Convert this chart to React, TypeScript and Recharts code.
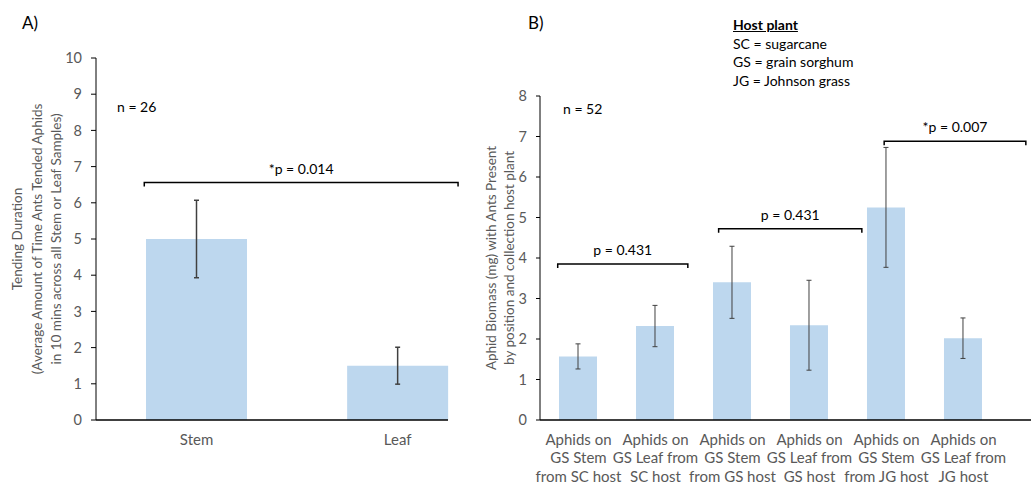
import React from "react";
import { BarChart, Bar, XAxis, YAxis, ErrorBar, ReferenceLine } from "recharts";

// Panel A: tending duration by sample position
const tendingPositions = ["Stem", "Leaf"];
const tendingMeans = [5.0, 1.5];
const tendingErrors = [1.07, 0.51];
const tendingTicks = [0, 1, 2, 3, 4, 5, 6, 7, 8, 9, 10];
const tendingBrackets = [{ from: 0.24, to: 1.8, y: 6.56, label: "*p = 0.014" }];

// Panel B: aphid biomass by position and host plant
const biomassGroups = [
  "Aphids on\nGS Stem\nfrom SC host",
  "Aphids on\nGS Leaf from\nSC host",
  "Aphids on\nGS Stem\nfrom GS host",
  "Aphids on\nGS Leaf from\nGS host",
  "Aphids on\nGS Stem\nfrom JG host",
  "Aphids on\nGS Leaf from\nJG host",
];
const biomassMeans = [1.57, 2.32, 3.4, 2.34, 5.25, 2.02];
const biomassErrors = [0.31, 0.51, 0.89, 1.11, 1.48, 0.5];
const biomassTicks = [0, 1, 2, 3, 4, 5, 6, 7, 8];
const biomassBrackets = [
  { from: 0.23, to: 1.92, y: 3.85, label: "p = 0.431" },
  { from: 2.32, to: 4.18, y: 4.72, label: "p = 0.431" },
  { from: 4.47, to: 6.31, y: 6.88, label: "*p = 0.007" },
];

const hostPlantKey = ["SC = sugarcane", "GS = grain sorghum", "JG = Johnson grass"];

const FONT = "Lato, 'Open Sans', sans-serif";
const GREY = "#595959";
const BAR = "#BDD7EE";

const tendingData = tendingPositions.map((name, i) => ({
  x: i + 0.5,
  name,
  mean: tendingMeans[i],
  err: tendingErrors[i],
}));

const biomassData = biomassGroups.map((name, i) => ({
  x: i + 0.5,
  name,
  mean: biomassMeans[i],
  err: biomassErrors[i],
}));

function renderBracket(label: string) {
  return (props: any) => {
    const { x1, x2, y1 } = props;
    return (
      <g>
        <path
          d={`M${x1},${y1 + 4} V${y1} H${x2} V${y1 + 4}`}
          fill="none"
          stroke="#000"
          strokeWidth={1.5}
        />
        <text
          x={(x1 + x2) / 2}
          y={y1 - 9}
          textAnchor="middle"
          fontSize={14}
          fontFamily={FONT}
          fill="#000"
        >
          {label}
        </text>
      </g>
    );
  };
}

function axisTitle(lines: string[], offsets: number[]) {
  return (props: any) => {
    const vb = props.viewBox || {};
    const plotLeft = vb.x + vb.width;
    const cy = vb.y + vb.height / 2;
    return (
      <g>
        {lines.map((line, i) => (
          <text
            key={i}
            x={plotLeft - offsets[i]}
            y={cy}
            transform={`rotate(-90 ${plotLeft - offsets[i]} ${cy})`}
            textAnchor="middle"
            dominantBaseline="central"
            fontSize={13.5}
            fontFamily={FONT}
            fill={GREY}
          >
            {line}
          </text>
        ))}
      </g>
    );
  };
}

function GroupTick(props: any) {
  const { x, y, payload } = props;
  const lines = biomassGroups[Math.floor(payload.value)].split("\n");
  return (
    <text x={x} y={y} textAnchor="middle" fontSize={15} fontFamily={FONT} fill={GREY}>
      {lines.map((l, i) => (
        <tspan key={i} x={x} dy={i === 0 ? 10.5 : 18.5}>
          {l}
        </tspan>
      ))}
    </text>
  );
}

const absText = (left: number, top: number, extra: React.CSSProperties = {}) => ({
  position: "absolute" as const,
  left,
  top,
  fontFamily: FONT,
  fontSize: 14,
  color: "#000",
  whiteSpace: "nowrap" as const,
  lineHeight: "19px",
  ...extra,
});

export default function App() {
  return (
    <div
      style={{
        position: "absolute",
        left: 0,
        top: 0,
        width: 1031,
        height: 484,
        background: "#fff",
        overflow: "hidden",
      }}
    >
      {/* Panel A */}
      <div style={{ position: "absolute", left: 0, top: 0 }}>
        <BarChart
          width={470}
          height={484}
          data={tendingData}
          margin={{ top: 58, right: 22, left: 36, bottom: 24 }}
        >
          <XAxis
            type="number"
            dataKey="x"
            domain={[0, 1.75]}
            ticks={[0.5, 1.5]}
            tickFormatter={(v: number) => tendingPositions[Math.floor(v)]}
            tickLine={false}
            tickSize={0}
            tickMargin={14}
            height={40}
            axisLine={{ stroke: "#000", strokeWidth: 1.5 }}
            tick={{ fill: GREY, fontSize: 15, fontFamily: FONT }}
          />
          <YAxis
            type="number"
            domain={[0, 10]}
            ticks={tendingTicks}
            width={60}
            tickSize={5}
            tickMargin={9}
            axisLine={{ stroke: "#000", strokeWidth: 1 }}
            tickLine={{ stroke: "#000" }}
            tick={{ fill: GREY, fontSize: 14.5, fontFamily: FONT }}
            label={{
              content: axisTitle(
                [
                  "Tending Duration",
                  "(Average Amount of Time Ants Tended Aphids",
                  "in 10 mins across all Stem or Leaf Samples)",
                ],
                [79, 59.5, 40]
              ),
            }}
          />
          <Bar dataKey="mean" fill={BAR} barSize={101} isAnimationActive={false}>
            <ErrorBar dataKey="err" width={2.5} stroke="#404040" strokeWidth={1.5} />
          </Bar>
          {tendingBrackets.map((b, i) => (
            <ReferenceLine
              key={i}
              segment={[
                { x: b.from, y: b.y },
                { x: b.to, y: b.y },
              ]}
              ifOverflow="visible"
              shape={renderBracket(b.label)}
            />
          ))}
        </BarChart>
      </div>

      {/* Panel B */}
      <div style={{ position: "absolute", left: 440, top: 0 }}>
        <BarChart
          width={591}
          height={484}
          data={biomassData}
          margin={{ top: 96, right: 0, left: 60, bottom: 24 }}
        >
          <XAxis
            type="number"
            dataKey="x"
            domain={[0, 6.377]}
            ticks={[0.5, 1.5, 2.5, 3.5, 4.5, 5.5]}
            tickLine={false}
            tickSize={0}
            tickMargin={14}
            height={40}
            axisLine={{ stroke: "#000", strokeWidth: 1.5 }}
            tick={<GroupTick />}
          />
          <YAxis
            type="number"
            domain={[0, 8]}
            ticks={biomassTicks}
            width={40}
            tickSize={4}
            tickMargin={9}
            axisLine={{ stroke: "#000", strokeWidth: 1 }}
            tickLine={{ stroke: "#000" }}
            tick={{ fill: GREY, fontSize: 14.5, fontFamily: FONT }}
            label={{
              content: axisTitle(
                ["Aphid Biomass (mg) with Ants Present", "by position and collection host plant"],
                [49, 31]
              ),
            }}
          />
          <Bar dataKey="mean" fill={BAR} barSize={38} isAnimationActive={false}>
            <ErrorBar dataKey="err" width={2.5} stroke="#404040" strokeWidth={1} />
          </Bar>
          {biomassBrackets.map((b, i) => (
            <ReferenceLine
              key={i}
              segment={[
                { x: b.from, y: b.y },
                { x: b.to, y: b.y },
              ]}
              ifOverflow="visible"
              shape={renderBracket(b.label)}
            />
          ))}
        </BarChart>
      </div>

      {/* Panel letters, sample sizes and host plant key */}
      <div style={absText(22, 13, { fontSize: 17 })}>A)</div>
      <div style={absText(528, 13, { fontSize: 17 })}>B)</div>
      <div style={absText(117, 97)}>n = 26</div>
      <div style={absText(563, 99)}>n = 52</div>
      <div style={absText(733, 16, { lineHeight: "18.6px" })}>
        <div style={{ fontWeight: 700, textDecoration: "underline" }}>Host plant</div>
        {hostPlantKey.map((t) => (
          <div key={t}>{t}</div>
        ))}
      </div>
    </div>
  );
}
